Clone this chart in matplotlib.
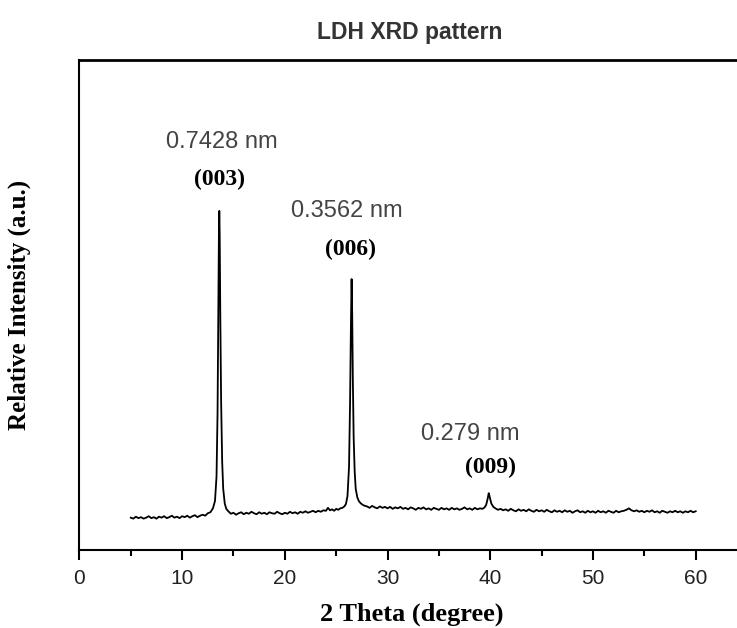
import numpy as np
import matplotlib
matplotlib.use('Agg')
import matplotlib.pyplot as plt
from matplotlib.ticker import MultipleLocator

# XRD trace: (2 theta in degree, intensity in a.u. on a 0-1000 scale)
trace = [
    (5.0, 66), (5.25, 64), (5.5, 68), (5.75, 65), (6.0, 67), (6.25, 64), (6.5, 66), (6.75, 69),
    (7.0, 65), (7.25, 67), (7.5, 64), (7.75, 68), (8.0, 66), (8.25, 69), (8.5, 65), (8.75, 67),
    (9.0, 70), (9.25, 66), (9.5, 68), (9.75, 65), (10.0, 69), (10.25, 67), (10.5, 70), (10.75, 66),
    (11.0, 69), (11.25, 71), (11.5, 67), (11.75, 70), (12.0, 72), (12.25, 70), (12.5, 75), (12.75, 77),
    # (003)
    (13.0, 85), (13.2, 100), (13.35, 150), (13.45, 280), (13.52, 480), (13.58, 640), (13.62, 692),
    (13.66, 640), (13.72, 470), (13.8, 300), (13.9, 180), (14.0, 125), (14.15, 95), (14.3, 84),
    (14.5, 79), (14.75, 74),
    (15.0, 76), (15.25, 72), (15.5, 75), (15.75, 77), (16.0, 73), (16.25, 76), (16.5, 74), (16.75, 78),
    (17.0, 75), (17.25, 73), (17.5, 77), (17.75, 74), (18.0, 76), (18.25, 73), (18.5, 77), (18.75, 75),
    (19.0, 74), (19.25, 78), (19.5, 75), (19.75, 73), (20.0, 76), (20.25, 74), (20.5, 78), (20.75, 75),
    (21.0, 77), (21.25, 74), (21.5, 78), (21.75, 76), (22.0, 79), (22.25, 76), (22.5, 78), (22.75, 80),
    (23.0, 77), (23.25, 80), (23.5, 78), (23.75, 81), (24.0, 80), (24.2, 86), (24.4, 81), (24.6, 83),
    (24.8, 80), (25.0, 84), (25.2, 82), (25.4, 85), (25.6, 86), (25.8, 89), (25.95, 94),
    # (006)
    (26.1, 110), (26.25, 170), (26.35, 300), (26.43, 450), (26.5, 553), (26.56, 480), (26.62, 350),
    (26.7, 230), (26.8, 160), (26.9, 125), (27.05, 108), (27.2, 100), (27.4, 95), (27.6, 92), (27.8, 90),
    (28.0, 89), (28.25, 86), (28.5, 90), (28.75, 87), (29.0, 85), (29.25, 89), (29.5, 86), (29.75, 88),
    (30.0, 85), (30.25, 88), (30.5, 84), (30.75, 87), (31.0, 85), (31.25, 88), (31.5, 84), (31.75, 86),
    (32.0, 83), (32.25, 87), (32.5, 85), (32.75, 82), (33.0, 86), (33.25, 84), (33.5, 87), (33.75, 83),
    (34.0, 85), (34.25, 82), (34.5, 86), (34.75, 84), (35.0, 82), (35.25, 86), (35.5, 83), (35.75, 85),
    (36.0, 82), (36.25, 86), (36.5, 83), (36.75, 85), (37.0, 82), (37.25, 84), (37.5, 87), (37.75, 83),
    (38.0, 85), (38.25, 82), (38.5, 86), (38.75, 83), (39.0, 85), (39.25, 84),
    # (009)
    (39.45, 87), (39.6, 92), (39.75, 105), (39.85, 116), (39.95, 108), (40.1, 95), (40.3, 88),
    (40.5, 85), (40.75, 82),
    (41.0, 84), (41.25, 81), (41.5, 83), (41.75, 80), (42.0, 84), (42.25, 81), (42.5, 79), (42.75, 83),
    (43.0, 80), (43.25, 82), (43.5, 79), (43.75, 83), (44.0, 80), (44.25, 78), (44.5, 82), (44.75, 79),
    (45.0, 81), (45.25, 78), (45.5, 82), (45.75, 79), (46.0, 77), (46.25, 81), (46.5, 78), (46.75, 80),
    (47.0, 77), (47.25, 81), (47.5, 78), (47.75, 80), (48.0, 76), (48.25, 79), (48.5, 81), (48.75, 77),
    (49.0, 79), (49.25, 76), (49.5, 80), (49.75, 77), (50.0, 79), (50.25, 76), (50.5, 80), (50.75, 77),
    (51.0, 79), (51.25, 76), (51.5, 80), (51.75, 78), (52.0, 76), (52.25, 80), (52.5, 77), (52.75, 79),
    (53.0, 80), (53.25, 82), (53.5, 85), (53.75, 81), (54.0, 79), (54.25, 81), (54.5, 78), (54.75, 80),
    (55.0, 77), (55.25, 80), (55.5, 78), (55.75, 81), (56.0, 77), (56.25, 79), (56.5, 76), (56.75, 80),
    (57.0, 78), (57.25, 76), (57.5, 79), (57.75, 77), (58.0, 80), (58.25, 77), (58.5, 79), (58.75, 76),
    (59.0, 79), (59.25, 77), (59.5, 80), (59.75, 77), (60.0, 79),
]
two_theta, intensity = zip(*trace)

peak_labels = ['(003)', '(006)', '(009)']
d_spacing = ['0.7428 nm', '0.3562 nm', '0.279 nm']

SANS = 'Liberation Sans'
SERIF = 'Liberation Serif'

fig = plt.figure(figsize=(7.37, 6.28), dpi=100)
ax = fig.add_axes([79.4 / 737, 78 / 628, (745 - 79.4) / 737, 490 / 628])

ax.plot(two_theta, intensity, color='black', lw=1.3)

ax.set_xlim(0, 64.8)
ax.set_ylim(0, 1000)
ax.xaxis.set_major_locator(MultipleLocator(10))
ax.xaxis.set_minor_locator(MultipleLocator(5))
ax.set_yticks([])
ax.tick_params(axis='x', which='major', direction='out', length=7, width=1.5, pad=7,
               labelsize=15, labelcolor='#222222')
ax.tick_params(axis='x', which='minor', direction='out', length=4, width=1.5)
for lab in ax.get_xticklabels():
    lab.set_fontfamily(SANS)

ax.spines['right'].set_visible(False)
ax.spines['top'].set_linewidth(2)
ax.spines['left'].set_linewidth(1.5)
ax.spines['bottom'].set_linewidth(1.5)

ax.set_xlabel('2 Theta (degree)', fontsize=19, fontweight='bold', fontfamily=SERIF)
ax.xaxis.set_label_coords(0.5, -0.108)
ax.set_ylabel('Relative Intensity (a.u.)', fontsize=18, fontweight='bold', fontfamily=SERIF)
ax.yaxis.set_label_coords(-0.072, 0.5)

fig.text(410 / 737, 1 - 38.5 / 628, 'LDH XRD pattern', ha='center', va='baseline',
         fontsize=16.5, fontweight='bold', fontfamily=SANS, color='#333333')

# label positions (data coords)
d_pos = [(13.88, 820), (26.05, 680), (38.1, 224)]
hkl_pos = [(13.6, 745), (26.35, 602), (40.0, 157)]
for txt, (x, y) in zip(d_spacing, d_pos):
    ax.text(x, y, txt, ha='center', va='baseline', fontsize=17, fontfamily=SANS, color='#444444')
for txt, (x, y) in zip(peak_labels, hkl_pos):
    ax.text(x, y, txt, ha='center', va='baseline', fontsize=17, fontweight='bold',
            fontfamily=SERIF, color='black')

fig.savefig('out.png', dpi=100)
